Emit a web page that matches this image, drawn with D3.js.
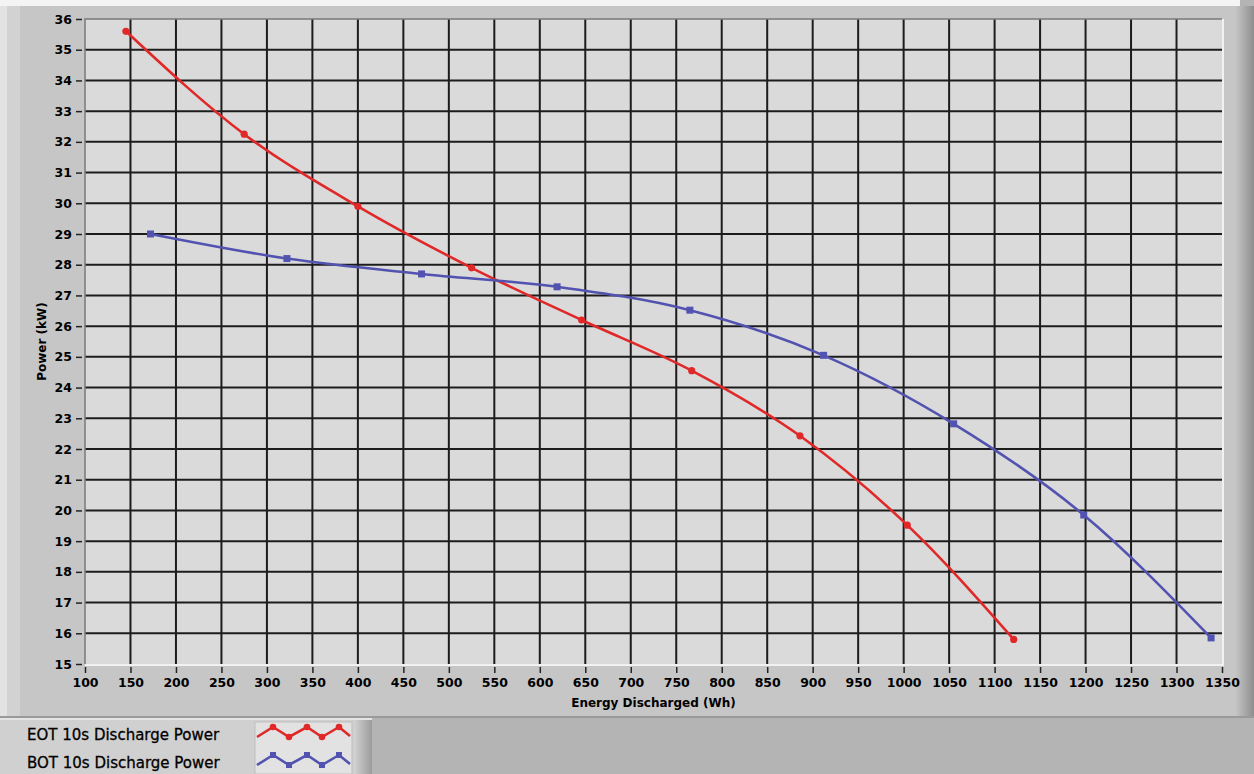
<!DOCTYPE html>
<html>
<head>
<meta charset="utf-8">
<script src="https://cdn.jsdelivr.net/npm/d3@7"></script>
<style>
  body { margin: 0; background: #b4b4b4; }
  svg { display: block; }
</style>
</head>
<body>
<div id="chart"></div>
<script>
// EOT / BOT 10s discharge power vs energy discharged
const eotEnergy = [145, 275, 400, 525, 646, 767, 886, 1004, 1121];
const eotPower  = [35.6, 32.25, 29.9, 27.9, 26.2, 24.55, 22.43, 19.52, 15.8];
const botEnergy = [172, 322, 470, 619, 765, 912, 1055, 1198, 1338];
const botPower  = [29.0, 28.2, 27.7, 27.28, 26.52, 25.05, 22.82, 19.85, 15.85];

const xTicks = d3.range(100, 1351, 50);
const yTicks = d3.range(15, 37, 1);
const seriesNames = ["EOT 10s Discharge Power", "BOT 10s Discharge Power"];
const seriesColors = ["#e02828", "#5252b0"];

const W = 1254, H = 774;
let svg = d3.select("#chart").append("svg")
    .attr("width", W)
    .attr("height", H);

let defs = svg.append("defs");
let rg = defs.append("linearGradient").attr("id", "rightEdge").attr("x1", 0).attr("x2", 1);
rg.append("stop").attr("offset", "0%").attr("stop-color", "#c4c4c4");
rg.append("stop").attr("offset", "100%").attr("stop-color", "#8e8e8e");

// outer frame
svg.append("rect").attr("x", 0).attr("y", 0).attr("width", W).attr("height", H).attr("fill", "#b4b4b4");
svg.append("rect").attr("x", 0).attr("y", 0).attr("width", 1240).attr("height", 717).attr("fill", "#c6c6c6");
svg.append("rect").attr("x", 0).attr("y", 0).attr("width", 1240).attr("height", 6).attr("fill", "#f4f4f4");
svg.append("rect").attr("x", 0).attr("y", 6).attr("width", 7).attr("height", 711).attr("fill", "#e2e2e2");
svg.append("rect").attr("x", 7).attr("y", 6).attr("width", 13).attr("height", 711).attr("fill", "#d2d2d2");
svg.append("rect").attr("x", 1236).attr("y", 6).attr("width", 18).attr("height", 711).attr("fill", "url(#rightEdge)");
svg.append("rect").attr("x", 0).attr("y", 716).attr("width", W).attr("height", 2).attr("fill", "#9a9a9a");

// scales
let x = d3.scaleLinear().domain([100, 1350]).range([85, 1222]);
let y = d3.scaleLinear().domain([15, 36]).range([664, 19]);

// plot background
svg.append("rect")
    .attr("x", x(100)).attr("y", y(36))
    .attr("width", x(1350) - x(100)).attr("height", y(15) - y(36))
    .attr("fill", "#dadada");

// grid
svg.append("g").selectAll("line").data(xTicks.slice(1, -1)).join("line")
    .attr("x1", d => x(d)).attr("x2", d => x(d))
    .attr("y1", y(36)).attr("y2", y(15))
    .attr("stroke", "#1c1c1c").attr("stroke-width", 2);
svg.append("g").selectAll("line").data(yTicks.slice(1, -1)).join("line")
    .attr("x1", x(100)).attr("x2", x(1350))
    .attr("y1", d => y(d)).attr("y2", d => y(d))
    .attr("stroke", "#1c1c1c").attr("stroke-width", 2);

// sunken border
svg.append("path")
    .attr("d", `M${x(100)},${y(15)}V${y(36)}H${x(1350)}`)
    .attr("fill", "none").attr("stroke", "#7a7a7a").attr("stroke-width", 1.5);
svg.append("path")
    .attr("d", `M${x(100)},${y(15) + 1}H${x(1350) + 1}V${y(36)}`)
    .attr("fill", "none").attr("stroke", "#ffffff").attr("stroke-width", 1.5);

// axes
let tickFont = "'DejaVu Sans', Verdana, sans-serif";
let yAxis = svg.append("g")
    .attr("transform", "translate(82,0)")
    .call(d3.axisLeft(y).tickValues(yTicks).tickSize(6).tickPadding(4).tickFormat(d3.format("d")));
let xAxis = svg.append("g")
    .attr("transform", "translate(0,667)")
    .call(d3.axisBottom(x).tickValues(xTicks).tickSize(6).tickPadding(5).tickFormat(d3.format("d")));
[yAxis, xAxis].forEach(function(a) {
    a.select(".domain").remove();
    a.selectAll(".tick line").attr("stroke", "#222").attr("stroke-width", 1.5);
    a.selectAll(".tick text")
        .attr("fill", "#000")
        .style("font-family", tickFont)
        .style("font-weight", "bold")
        .style("font-size", "12.5px");
});

// axis titles
svg.append("text")
    .attr("x", (x(100) + x(1350)) / 2).attr("y", 707)
    .attr("text-anchor", "middle")
    .style("font-family", tickFont).style("font-weight", "bold").style("font-size", "12px")
    .attr("fill", "#000")
    .text("Energy Discharged (Wh)");
svg.append("text")
    .attr("transform", `translate(46, ${(y(15) + y(36)) / 2}) rotate(-90)`)
    .attr("text-anchor", "middle")
    .style("font-family", tickFont).style("font-weight", "bold").style("font-size", "12px")
    .attr("fill", "#000")
    .text("Power (kW)");

// series
let series = [
    { name: seriesNames[0], color: seriesColors[0], pts: eotEnergy.map((e, i) => [e, eotPower[i]]), shape: "circle" },
    { name: seriesNames[1], color: seriesColors[1], pts: botEnergy.map((e, i) => [e, botPower[i]]), shape: "square" }
];
let line = d3.line()
    .x(d => x(d[0])).y(d => y(d[1]))
    .curve(d3.curveMonotoneX);

series.forEach(function(s) {
    svg.append("path")
        .attr("d", line(s.pts))
        .attr("fill", "none")
        .attr("stroke", s.color)
        .attr("stroke-width", 2.6)
        .attr("stroke-linejoin", "round");
    let g = svg.append("g");
    if (s.shape == "circle") {
        g.selectAll("circle").data(s.pts).join("circle")
            .attr("cx", d => x(d[0])).attr("cy", d => y(d[1]))
            .attr("r", 3.6).attr("fill", s.color);
    } else {
        g.selectAll("rect").data(s.pts).join("rect")
            .attr("x", d => x(d[0]) - 3.5).attr("y", d => y(d[1]) - 3.5)
            .attr("width", 7).attr("height", 7).attr("fill", s.color);
    }
});

// legend panel
let lg = defs.append("linearGradient").attr("id", "legEdge").attr("x1", 0).attr("x2", 1);
lg.append("stop").attr("offset", "0%").attr("stop-color", "#d2d2d2");
lg.append("stop").attr("offset", "100%").attr("stop-color", "#9c9c9c");
svg.append("rect").attr("x", 0).attr("y", 718).attr("width", 372).attr("height", 56).attr("fill", "#d0d0d0");
svg.append("rect").attr("x", 0).attr("y", 718).attr("width", 372).attr("height", 2).attr("fill", "#e4e4e4");
svg.append("rect").attr("x", 354).attr("y", 720).attr("width", 18).attr("height", 54).attr("fill", "url(#legEdge)");
svg.append("rect").attr("x", 255).attr("y", 722).attr("width", 97).attr("height", 52)
    .attr("fill", "#e2e2e2").attr("stroke", "#bdbdbd").attr("stroke-width", 1);

// zigzag swatch pattern (offsets inside the swatch box)
const zigX = [2, 18, 34, 52, 67, 84, 95];
const zigY = [10, 0, 10, 0, 10, 0, 9];
series.forEach(function(s, i) {
    let rowY = 735 + i * 28;
    svg.append("text")
        .attr("x", 27).attr("y", rowY + 5)
        .style("font-family", tickFont).style("font-size", "15px")
        .attr("fill", "#000")
        .attr("stroke", "#000").attr("stroke-width", 0.3)
        .text(s.name);
    let pts = zigX.map((zx, k) => [255 + zx, rowY - 8 + zigY[k]]);
    svg.append("path")
        .attr("d", d3.line()(pts))
        .attr("fill", "none").attr("stroke", s.color).attr("stroke-width", 2.6);
    let mk = pts.slice(1, -1);
    if (s.shape == "circle") {
        svg.append("g").selectAll("circle").data(mk).join("circle")
            .attr("cx", d => d[0]).attr("cy", d => d[1]).attr("r", 3.3).attr("fill", s.color);
    } else {
        svg.append("g").selectAll("rect").data(mk).join("rect")
            .attr("x", d => d[0] - 3).attr("y", d => d[1] - 3)
            .attr("width", 6).attr("height", 6).attr("fill", s.color);
    }
});
</script>
</body>
</html>
